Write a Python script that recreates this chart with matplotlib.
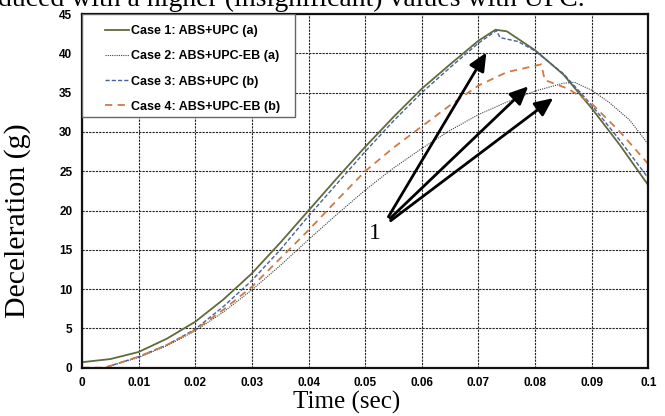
import matplotlib
matplotlib.use("Agg")
import matplotlib.pyplot as plt
from matplotlib.patches import Rectangle

# time samples (sec) and deceleration (g)
t1 = [0, 0.005, 0.01, 0.015, 0.02, 0.025, 0.03, 0.035, 0.04, 0.045, 0.05,
      0.055, 0.06, 0.065, 0.07, 0.073, 0.075, 0.08, 0.085, 0.09, 0.095, 0.1]
case1 = [0.7, 1.1, 2.0, 3.7, 5.85, 8.7, 12.0, 15.9, 20.0, 24.1, 28.1,
         31.9, 35.5, 38.6, 41.6, 43.0, 42.8, 40.4, 37.3, 33.0, 28.3, 23.2]

t2 = [0, 0.004, 0.01, 0.015, 0.02, 0.025, 0.03, 0.035, 0.04, 0.045, 0.05,
      0.055, 0.06, 0.065, 0.07, 0.075, 0.08, 0.085, 0.087, 0.09, 0.093, 0.0967, 0.1]
case2 = [0, 0, 1.3, 2.8, 4.7, 7.1, 9.9, 13.0, 16.3, 19.5, 22.6,
         25.4, 27.9, 30.2, 32.2, 33.8, 35.2, 36.2, 36.3, 35.3, 33.8, 31.5, 28.4]

t3 = [0, 0.004, 0.01, 0.015, 0.02, 0.025, 0.03, 0.035, 0.04, 0.045, 0.05,
      0.055, 0.06, 0.065, 0.07, 0.0732, 0.0738, 0.077, 0.08, 0.085, 0.09, 0.095, 0.1]
case3 = [0, 0, 1.4, 2.9, 4.9, 7.8, 11.1, 15.0, 19.3, 23.4, 27.5,
         31.4, 35.0, 38.2, 41.3, 42.9, 42.0, 41.5, 40.3, 37.4, 33.4, 28.9, 24.1]

t4 = [0, 0.004, 0.01, 0.015, 0.02, 0.025, 0.03, 0.035, 0.04, 0.045, 0.05,
      0.055, 0.06, 0.065, 0.07, 0.075, 0.0811, 0.0817, 0.0858, 0.09, 0.095, 0.1]
case4 = [0, 0, 1.4, 2.9, 4.8, 7.4, 10.3, 13.9, 17.5, 21.3, 25.0,
         28.0, 30.7, 33.4, 35.9, 37.6, 38.6, 36.6, 35.5, 33.6, 30.0, 25.9]

labels = ["Case 1: ABS+UPC (a)", "Case 2: ABS+UPC-EB (a)",
          "Case 3: ABS+UPC (b)", "Case 4: ABS+UPC-EB (b)"]

xticks = [0, 0.01, 0.02, 0.03, 0.04, 0.05, 0.06, 0.07, 0.08, 0.09, 0.1]
xticklabels = ["0", "0.01", "0.02", "0.03", "0.04", "0.05", "0.06", "0.07",
               "0.08", "0.09", "0.1"]
yticks = [0, 5, 10, 15, 20, 25, 30, 35, 40, 45]

# arrows labelled "1": tail and head points in data units
arrow_tails = [(0.0541, 19.2), (0.0544, 19.0), (0.0545, 18.7)]
arrow_heads = [(0.0714, 40.1), (0.0788, 35.8), (0.0832, 34.3)]

fig = plt.figure(figsize=(6.65, 4.16), dpi=100)
ax = fig.add_axes([0.1233, 0.1161, 0.8517, 0.8502])

ax.plot(t1, case1, color="#5f6b3c", lw=1.3, ls="-", label=labels[0])
ax.plot(t2, case2, color="#404040", lw=0.8, ls=(0, (1, 1)), label=labels[1])
ax.plot(t3, case3, color="#4a5f9c", lw=1.0, ls=(0, (3, 1.5)), label=labels[2])
ax.plot(t4, case4, color="#d07a45", lw=1.3, ls=(0, (4, 3)), label=labels[3])

for (tx, ty), (hx, hy) in zip(arrow_tails, arrow_heads):
    ax.annotate("", xy=(hx, hy), xytext=(tx, ty),
                arrowprops=dict(arrowstyle="-|>,head_length=1.1,head_width=0.5",
                                color="black", lw=2, shrinkA=0, shrinkB=0))
ax.text(0.0517, 17.1, "1", family="Liberation Serif", fontsize=17,
        ha="center", va="center")

ax.set_xlim(0, 0.1)
ax.set_ylim(0, 45)
ax.set_xticks(xticks)
ax.set_xticklabels(xticklabels)
ax.set_yticks(yticks)
ax.tick_params(length=0, pad=7, labelsize=8.5)
for lab in ax.get_xticklabels() + ax.get_yticklabels():
    lab.set_family("Liberation Sans")
    lab.set_fontweight("bold")

ax.grid(True, color="#222222", lw=0.8, ls=(0, (2, 1)))
for side in ["left", "right", "top", "bottom"]:
    ax.spines[side].set_linewidth(1.6)
    ax.spines[side].set_color("#111111")

ax.set_xlabel("Time (sec)", family="Liberation Serif", fontsize=18)
ax.xaxis.set_label_coords(0.468, -0.066, transform=ax.transAxes)
ax.xaxis.label.set_va("top")
ax.set_ylabel("Deceleration (g)", family="Liberation Serif", fontsize=21.5)
ax.yaxis.set_label_coords(-0.09, 0.415)

# legend box drawn by hand so the padding can match
ax.add_patch(Rectangle((0.0, 0.709), 0.376, 0.29, transform=ax.transAxes,
                       facecolor="white", edgecolor="#666666", lw=1.0, zorder=4.5))
leg = ax.legend(loc="upper left", bbox_to_anchor=(0.0406, 0.968), borderaxespad=0,
                borderpad=0, frameon=False,
                prop={"family": "Liberation Sans", "weight": "bold", "size": 9},
                handlelength=1.9, handletextpad=0.2, labelspacing=1.05)
leg.set_zorder(5)

# cut-off line of the surrounding paper text
fig.text(-0.003, 1 - 6.5 / 416, "duced with a higher (insignificant) values with UPC.",
         family="Liberation Serif", fontsize=20, ha="left", va="baseline")

fig.savefig("out.png", dpi=100)
